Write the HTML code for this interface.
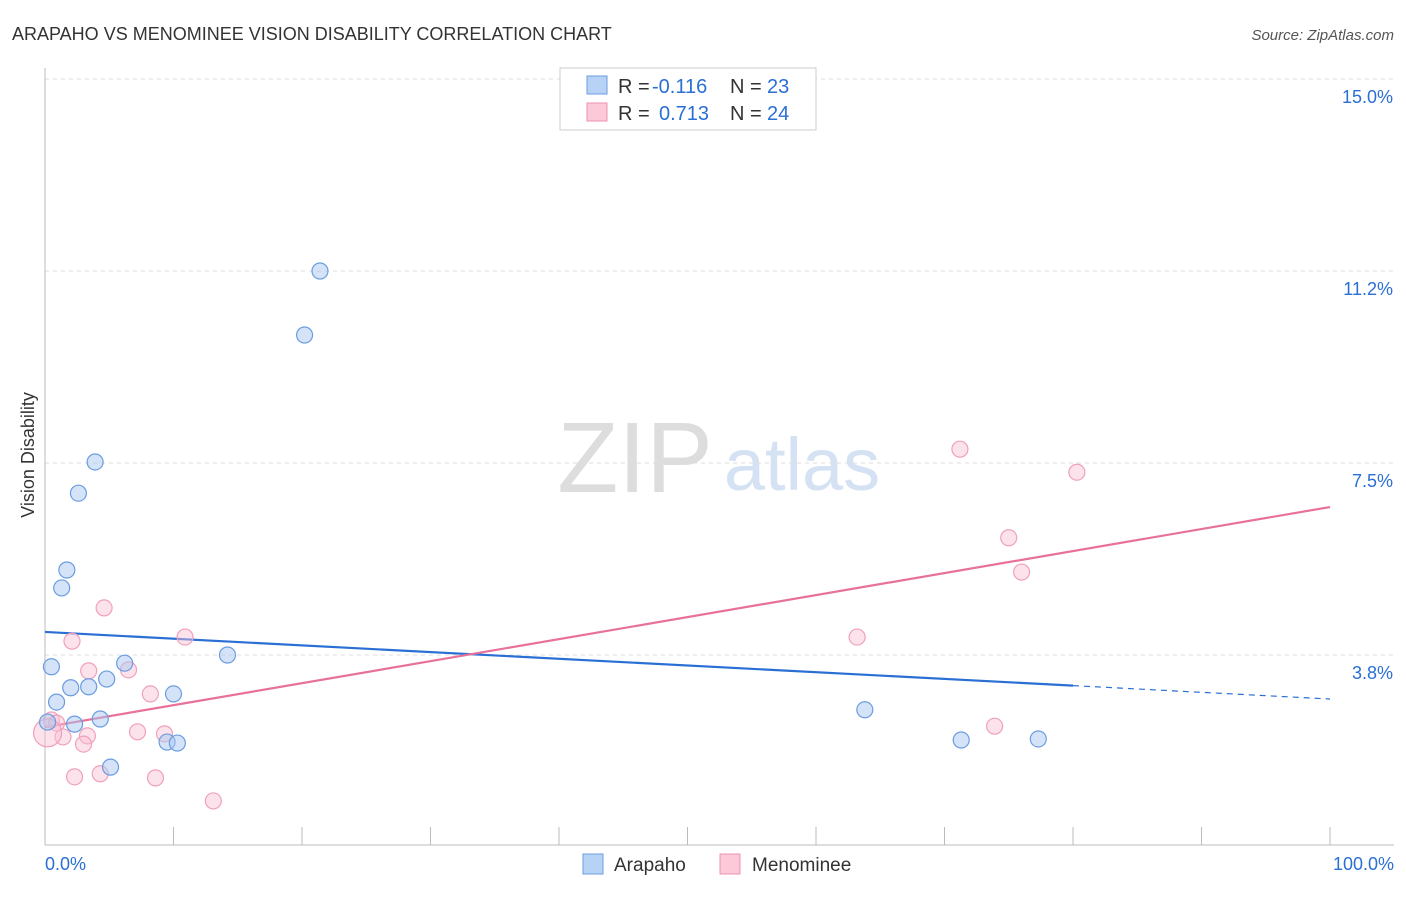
<!DOCTYPE html>
<html><head><meta charset="utf-8"><style>
body{margin:0;background:#fff;font-family:"Liberation Sans",sans-serif;}
svg text{font-family:"Liberation Sans",sans-serif;}
</style></head><body>
<svg id="chart" width="1406" height="892">
<text x="12" y="40" font-size="18" fill="#333">ARAPAHO VS MENOMINEE VISION DISABILITY CORRELATION CHART</text>
<text x="1394" y="40" font-size="15" fill="#555" font-style="italic" text-anchor="end">Source: ZipAtlas.com</text>
<text x="635" y="492" font-size="100" fill="#ddd" font-family="Liberation Serif" text-anchor="middle">ZIP</text>
<text x="802" y="490" font-size="74" fill="#d4e2f4" text-anchor="middle">atlas</text>
<text x="34" y="455" font-size="18" fill="#333" text-anchor="middle" transform="rotate(-90 34 455)">Vision Disability</text>
<g id="grid"></g><g id="axes"></g><g id="trend"></g><g id="points"></g>
<g>
<rect x="560" y="68" width="256" height="62" fill="#fff" stroke="#ccc"/>
<rect x="587" y="76" width="20" height="18" fill="#b8d2f5" stroke="#6a9de0"/>
<rect x="587" y="103" width="20" height="18" fill="#fbc9d8" stroke="#ee92b0"/>
<text x="618" y="93" font-size="20" fill="#333">R =</text>
<text x="652" y="93" font-size="20" fill="#2a6fd4">-0.116</text>
<text x="730" y="93" font-size="20" fill="#333">N =</text>
<text x="767" y="93" font-size="20" fill="#2a6fd4">23</text>
<text x="618" y="120" font-size="20" fill="#333">R =</text>
<text x="659" y="120" font-size="20" fill="#2a6fd4">0.713</text>
<text x="730" y="120" font-size="20" fill="#333">N =</text>
<text x="767" y="120" font-size="20" fill="#2a6fd4">24</text>
</g>
<g>
<rect x="583" y="854" width="20" height="20" fill="#b8d2f5" stroke="#6a9de0"/>
<text x="614" y="871" font-size="19" fill="#333">Arapaho</text>
<rect x="720" y="854" width="20" height="20" fill="#fbc9d8" stroke="#ee92b0"/>
<text x="752" y="871" font-size="19" fill="#333">Menominee</text>
</g>
<text x="45" y="870" font-size="18" fill="#2a6fd4">0.0%</text>
<text x="1394" y="870" font-size="18" fill="#2a6fd4" text-anchor="end">100.0%</text>
</svg>
<script>
const yTicks=[15.0,11.25,7.5,3.75];
const yTickLabels=["15.0%","11.2%","7.5%","3.8%"];
const xTicks=[0,10,20,30,40,50,60,70,80,90,100];
const arapahoX=[21.4,20.2,3.9,2.6,1.7,1.3,0.5,6.2,14.2,4.8,2.0,3.4,10.0,0.9,4.3,2.3,9.5,10.3,5.1,63.8,71.3,77.3,0.2];
const arapahoY=[11.25,10.0,7.52,6.91,5.41,5.06,3.52,3.59,3.75,3.28,3.11,3.13,2.99,2.83,2.50,2.40,2.05,2.03,1.56,2.68,2.09,2.11,2.44];
const menomineeX=[71.2,80.3,75.0,76.0,63.2,4.6,2.1,10.9,3.4,6.5,8.2,7.2,9.3,3.3,1.4,3.0,0.5,0.9,0.2,2.3,4.3,8.6,13.1,73.9];
const menomineeY=[7.77,7.32,6.04,5.37,4.10,4.67,4.02,4.10,3.44,3.46,2.99,2.25,2.21,2.17,2.15,2.01,2.48,2.42,2.23,1.37,1.43,1.35,0.90,2.36];
const arapahoTrend=[4.2,2.89];
const menomineeTrend=[2.34,6.64];
const NS="http://www.w3.org/2000/svg";
const sx=v=>45+v*12.85, sy=v=>847-v*51.2;
function mk(p,t,a){const e=document.createElementNS(NS,t);for(const k in a)e.setAttribute(k,a[k]);p.appendChild(e);return e;}
const grid=document.getElementById('grid');
yTicks.forEach((t,i)=>{
 const l=mk(grid,'line',{x1:45,x2:1394,y1:sy(t),y2:sy(t),stroke:'#ddd','stroke-dasharray':'4,4'});
 
 
 const tx=mk(grid,'text',{x:1393,y:sy(t)+24,'font-size':18,fill:'#2a6fd4','text-anchor':'end'});
 tx.textContent=yTickLabels[i];
 
 
});
const axes=document.getElementById('axes');
mk(axes,'line',{x1:45,x2:1394,y1:845,y2:845,stroke:'#bbb'});
mk(axes,'line',{x1:45,x2:45,y1:68,y2:845,stroke:'#bbb'});
xTicks.forEach(t=>{const l=mk(axes,'line',{x1:sx(t),x2:sx(t),y1:827,y2:845,stroke:'#bbb'});
 
 });
const tr=document.getElementById('trend');
const bAt=x=>arapahoTrend[0]+(arapahoTrend[1]-arapahoTrend[0])*x/100;
let l1=mk(tr,'line',{x1:sx(0),y1:sy(bAt(0)),x2:sx(80),y2:sy(bAt(80)),stroke:'#2a6fd4','stroke-width':2.2});


let l2=mk(tr,'line',{x1:sx(80),y1:sy(bAt(80)),x2:sx(100),y2:sy(bAt(100)),stroke:'#2a6fd4','stroke-width':1.2,'stroke-dasharray':'6,5'});


let l3=mk(tr,'line',{x1:sx(0),y1:sy(menomineeTrend[0]),x2:sx(100),y2:sy(menomineeTrend[1]),stroke:'#e8719a','stroke-width':2.2});


const pts=document.getElementById('points');
menomineeX.forEach((x,i)=>{const c=mk(pts,'circle',{cx:sx(x),cy:sy(menomineeY[i]),r:(i==18?14:8),fill:'rgba(248,190,210,0.45)',stroke:'#f0a0bb','stroke-width':1.2});
 
 });
arapahoX.forEach((x,i)=>{const c=mk(pts,'circle',{cx:sx(x),cy:sy(arapahoY[i]),r:8,fill:'rgba(170,200,240,0.5)',stroke:'#6a9de0','stroke-width':1.2});
 
 });
</script>
</body></html>
